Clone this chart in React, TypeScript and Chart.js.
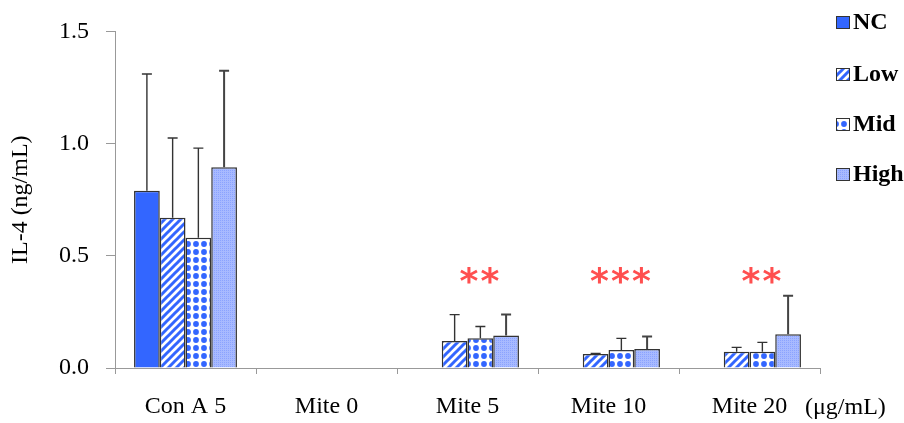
import React, { useEffect, useRef } from "react";
import { Chart, registerables } from "chart.js";

Chart.register(...registerables);

const categories = ["Con A 5", "Mite 0", "Mite 5", "Mite 10", "Mite 20"];
const seriesNames = ["NC", "Low", "Mid", "High"];
const ncValues = [0.79, 0, 0, 0, 0];
const lowValues = [0.67, 0, 0.12, 0.062, 0.072];
const midValues = [0.58, 0, 0.133, 0.08, 0.072];
const highValues = [0.895, 0, 0.145, 0.085, 0.15];
const ncErrors = [0.52, 0, 0, 0, 0];
const lowErrors = [0.355, 0, 0.118, 0.003, 0.02];
const midErrors = [0.4, 0, 0.052, 0.052, 0.042];
const highErrors = [0.43, 0, 0.093, 0.055, 0.172];
const significance = ["", "", "**", "***", "**"];
const yTicks = [0, 0.5, 1.0, 1.5];
const unitLabel = "(μg/mL)";
const yTitle = "IL-4 (ng/mL)";

const BLUE = "#3366ff";
const SERIF = '"Liberation Serif", "Times New Roman", serif';
const FS = 24;

function makePattern(kind: string): CanvasPattern | string {
  const c = document.createElement("canvas");
  const ctx = c.getContext("2d")!;
  if (kind === "stripes") {
    c.width = 8; c.height = 8;
    ctx.fillStyle = "#ffffff";
    ctx.fillRect(0, 0, 8, 8);
    ctx.strokeStyle = BLUE;
    ctx.lineWidth = 3;
    ctx.beginPath();
    ctx.moveTo(-2, 10); ctx.lineTo(10, -2);
    ctx.moveTo(-6, 6); ctx.lineTo(6, -6);
    ctx.moveTo(2, 14); ctx.lineTo(14, 2);
    ctx.stroke();
  } else if (kind === "dots") {
    c.width = 8; c.height = 8;
    ctx.fillStyle = "#ffffff";
    ctx.fillRect(0, 0, 8, 8);
    ctx.fillStyle = BLUE;
    ctx.beginPath();
    ctx.arc(4, 4, 2.9, 0, Math.PI * 2);
    ctx.fill();
  } else if (kind === "check") {
    c.width = 4; c.height = 4;
    ctx.fillStyle = "#a8baff";
    ctx.fillRect(0, 0, 4, 4);
    ctx.fillStyle = "#8ba3ff";
    ctx.fillRect(0, 0, 1, 1);
    ctx.fillRect(2, 2, 1, 1);
    ctx.fillRect(2, 0, 1, 1);
    ctx.fillRect(0, 2, 1, 1);
  } else {
    return BLUE;
  }
  return ctx.createPattern(c, "repeat")!;
}

export default function App() {
  const ref = useRef<HTMLCanvasElement | null>(null);

  useEffect(() => {
    const canvas = ref.current!;
    const fills = [makePattern("solid"), makePattern("stripes"), makePattern("dots"), makePattern("check")];
    const values = [ncValues, lowValues, midValues, highValues];
    const errors = [ncErrors, lowErrors, midErrors, highErrors];

    const extras = {
      id: "extras",
      afterDatasetsDraw(chart: any) {
        const ctx = chart.ctx;
        const ys = chart.scales.y;
        ctx.save();
        values.forEach((vals, i) => {
          const meta = chart.getDatasetMeta(i);
          meta.data.forEach((el: any, j: number) => {
            const e = errors[i][j];
            if (!e || vals[j] <= 0) return;
            const top = ys.getPixelForValue(vals[j] + e);
            ctx.strokeStyle = i === 3 ? "#444" : "#333";
            ctx.lineWidth = i === 3 ? 2 : 1.4;
            ctx.beginPath();
            ctx.moveTo(el.x, el.y);
            ctx.lineTo(el.x, top);
            ctx.moveTo(el.x - 5, top);
            ctx.lineTo(el.x + 5, top);
            ctx.stroke();
          });
        });
        ctx.restore();
      },
      afterDraw(chart: any) {
        const ctx = chart.ctx;
        const xs = chart.scales.x;
        const ys = chart.scales.y;
        ctx.save();
        // significance stars
        ctx.fillStyle = "#ff4f4f";
        ctx.font = 'bold 36px "DejaVu Sans"';
        ctx.textAlign = "center";
        ctx.textBaseline = "middle";
        significance.forEach((s, j) => {
          if (!s) return;
          const cx = xs.getPixelForValue(j) + 12;
          const n = s.length;
          const gap = 21;
          for (let k = 0; k < n; k++) {
            const x = cx + (k - (n - 1) / 2) * gap;
            ctx.fillText("*", x, ys.getPixelForValue(0.41) + 8);
          }
        });
        // unit label
        ctx.fillStyle = "#000";
        ctx.font = `${FS}px ${SERIF}`;
        ctx.textAlign = "left";
        ctx.fillText(unitLabel, 805, 408);
        // legend
        const legendY = [22, 74, 124, 174];
        seriesNames.forEach((name, i) => {
          const y = legendY[i];
          ctx.fillStyle = fills[i] as any;
          ctx.fillRect(836, y - 6, 14, 13);
          ctx.strokeStyle = "#333";
          ctx.lineWidth = 1;
          ctx.strokeRect(836.5, y - 5.5, 13, 12);
          ctx.fillStyle = "#000";
          ctx.font = `bold ${FS}px ${SERIF}`;
          ctx.textAlign = "left";
          ctx.textBaseline = "middle";
          ctx.fillText(name, 853, y + 1);
        });
        ctx.restore();
      },
    };

    const chart = new Chart(canvas, {
      type: "bar",
      data: {
        labels: categories,
        datasets: seriesNames.map((name, i) => ({
          label: name,
          data: values[i],
          backgroundColor: fills[i] as any,
          borderColor: "#333",
          borderWidth: 1.5,
          categoryPercentage: 0.73,
          barPercentage: 1.0,
        })),
      },
      options: {
        animation: false,
        responsive: false,
        layout: { padding: { top: 30, right: 84, left: 0, bottom: 0 } },
        plugins: { legend: { display: false }, tooltip: { enabled: false } },
        scales: {
          x: {
            afterFit: (s: any) => { s.height = 55; },
            grid: { display: true, drawOnChartArea: false, offset: true, tickLength: 6, color: "#999" },
            border: { color: "#999", width: 1 },
            ticks: { font: { family: SERIF, size: FS }, color: "#000", padding: 18 },
          },
          y: {
            min: 0,
            max: 1.5,
            afterFit: (s: any) => { s.width = 115; },
            afterBuildTicks: (s: any) => { s.ticks = yTicks.map((v) => ({ value: v })); },
            grid: { display: true, drawOnChartArea: false, tickLength: 9, color: "#999" },
            border: { color: "#999", width: 1 },
            ticks: {
              font: { family: SERIF, size: FS },
              color: "#000",
              padding: 17,
              callback: (v: any) => Number(v).toFixed(1),
            },
            title: { display: true, text: yTitle, font: { family: SERIF, size: FS }, color: "#000", padding: { top: 6, bottom: 0 } },
          },
        },
      },
      plugins: [extras],
    });
    return () => chart.destroy();
  }, []);

  return (
    <div style={{ position: "absolute", left: 0, top: 0, width: 904, height: 423, background: "#fff" }}>
      <canvas ref={ref} width={904} height={423} />
    </div>
  );
}
